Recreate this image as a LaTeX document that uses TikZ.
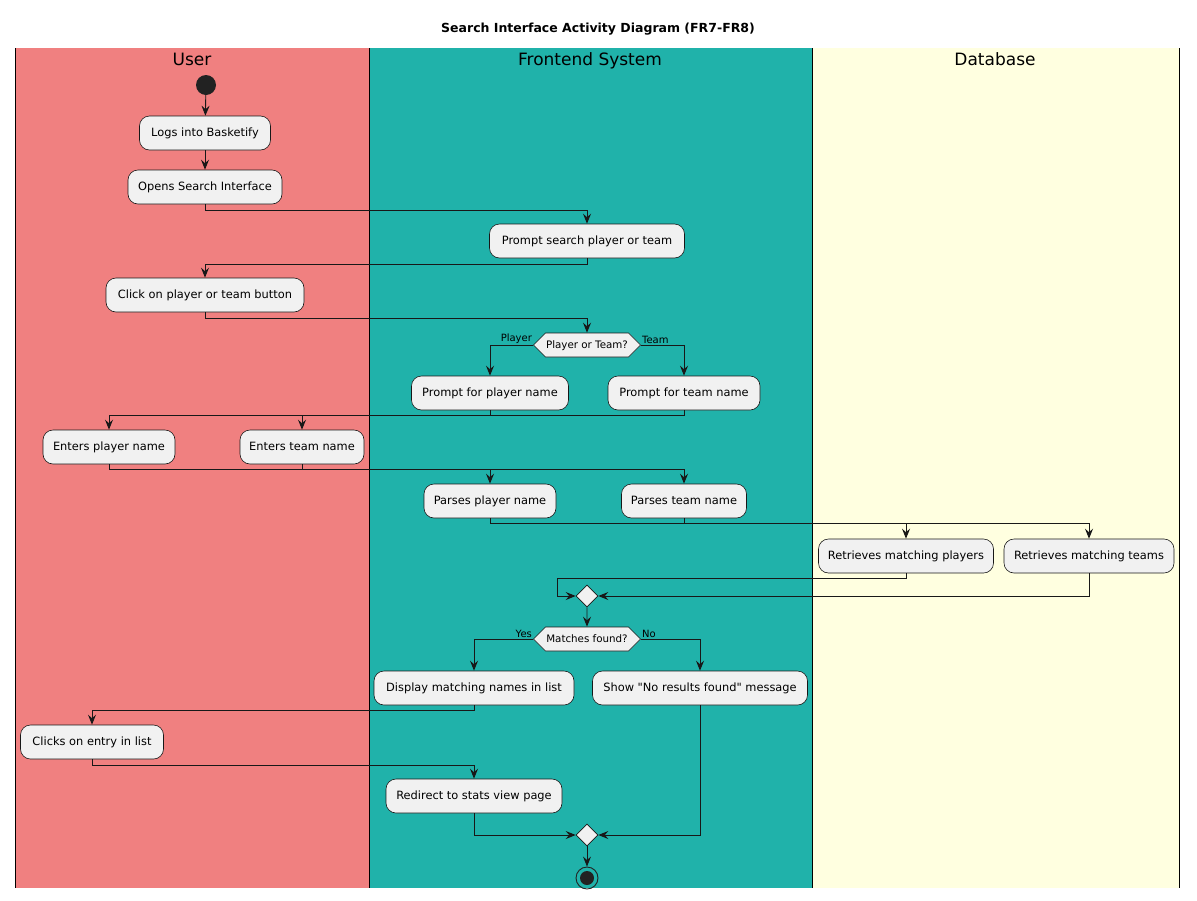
\documentclass[tikz,border=0pt]{standalone}
\usepackage{fontspec}
\setmainfont{DejaVu Sans}[Ligatures=TeXOff]
\usetikzlibrary{arrows.meta,shapes.geometric,shapes.symbols,calc}
\definecolor{userc}{HTML}{F08080}
\definecolor{frontc}{HTML}{20B2AA}
\definecolor{dbc}{HTML}{FFFFE0}
\definecolor{boxf}{HTML}{F1F1F1}
\definecolor{bd}{HTML}{181818}
\definecolor{ln}{HTML}{181818}
\definecolor{dot}{HTML}{222222}
\begin{document}
\begin{tikzpicture}[x=1pt,y=-1pt,
 act/.style={draw=bd, fill=boxf, rounded corners=10pt, line width=0.6pt, minimum height=34pt, inner xsep=6pt, text height=9pt, text depth=2.5pt, font=\fontsize{11.4}{13}\selectfont},
 dec/.style={shape=signal, signal to=west and east, signal pointer angle=90, draw=bd, fill=boxf, line width=0.6pt, minimum width=107pt, minimum height=24pt, inner sep=0pt, text height=8pt, text depth=2pt, font=\fontsize{10.3}{12}\selectfont},
 mrg/.style={diamond, draw=bd, fill=boxf, minimum width=22pt, minimum height=22pt, inner sep=0pt, line width=0.6pt},
 flow/.style={line width=0.9pt, draw=ln, -{Stealth[length=10pt,width=8pt,inset=3.5pt]}},
 seg/.style={line width=0.9pt, draw=ln},
 lbl/.style={font=\fontsize{10}{12}\selectfont, inner sep=1pt},
 lane/.style={font=\fontsize{17}{20}\selectfont, text height=12.5pt, text depth=3.5pt},
]
\useasboundingbox (0,0) rectangle (1197,900);
% lanes
\fill[userc] (15,48) rectangle (369,888);
\fill[frontc] (369,48) rectangle (812,888);
\fill[dbc] (812,48) rectangle (1179,888);
\foreach \xx in {15,369,812,1179} \draw[line width=1pt, black] (\xx,48) -- (\xx,888);
\node[font=\bfseries\fontsize{12.5}{15}\selectfont] (title) at (598,29) {Search Interface Activity Diagram (FR7-FR8)};
\node[lane] (lu) at (192,61) {User};
\node[lane] (lf) at (590,61) {Frontend System};
\node[lane] (ld) at (995,61) {Database};

% nodes
\node[circle, fill=dot, minimum size=20pt, inner sep=0pt] (start) at (206,85) {};
\node[act, minimum width=131pt] (a1) at (205,133) {Logs into Basketify};
\node[act, minimum width=154pt] (a2) at (205,187) {Opens Search Interface};
\node[act, minimum width=195pt] (a3) at (587,241) {Prompt search player or team};
\node[act, minimum width=198pt] (a4) at (205,295) {Click on player or team button};
\node[dec] (d1) at (587,345) {Player or Team?};
\node[act, minimum width=157pt] (a5) at (490,393) {Prompt for player name};
\node[act, minimum width=152pt] (a6) at (684,393) {Prompt for team name};
\node[act, minimum width=132pt] (a7) at (109,447) {Enters player name};
\node[act, minimum width=124pt] (a8) at (302,447) {Enters team name};
\node[act, minimum width=132pt] (a9) at (490,501) {Parses player name};
\node[act, minimum width=125pt] (a10) at (684,501) {Parses team name};
\node[act, minimum width=175pt] (a11) at (906,556) {Retrieves matching players};
\node[act, minimum width=170pt] (a12) at (1089,556) {Retrieves matching teams};
\node[mrg] (m1) at (587,596) {};
\node[dec] (d2) at (587,639) {Matches found?};
\node[act, minimum width=200pt] (a13) at (474,688) {Display matching names in list};
\node[act, minimum width=215pt] (a14) at (700,688) {Show "No results found" message};
\node[act, minimum width=143pt] (a15) at (92,742) {Clicks on entry in list};
\node[act, minimum width=176pt] (a16) at (474,796) {Redirect to stats view page};
\node[mrg] (m2) at (587,835) {};
\node[circle, draw=dot, line width=0.9pt, minimum size=22pt, inner sep=0pt] (end) at (587,878) {};
\fill[dot] (end.center) circle (7pt);

% bus coordinates
\coordinate (b1) at (0,415);
\coordinate (b2) at (0,469);
\coordinate (b3) at (0,523);
\coordinate (k1) at (557,578);

% connectors
\draw[flow] (start) -- (a1);
\draw[flow] (a1) -- (a2);
\draw[flow] (a2.south) -- ++(0,6) -| (a3.north);
\draw[flow] (a3.south) -- ++(0,6) -| (a4.north);
\draw[flow] (a4.south) -- ++(0,6) -| (d1.north);
\draw[flow] (d1.west) -| (a5.north);
\draw[flow] (d1.east) -| (a6.north);
\node[lbl, anchor=south east] (lp) at (d1.west) {Player};
\node[lbl, anchor=south west] (lt) at (d1.east) {Team};

\draw[seg] (a5.south) -- (a5.south |- b1);
\draw[flow] (a6.south) -- (a6.south |- b1) -| (a7.north);
\draw[flow] (a8.north |- b1) -- (a8.north);

\draw[seg] (a8.south) -- (a8.south |- b2);
\draw[flow] (a7.south) -- (a7.south |- b2) -| (a10.north);
\draw[flow] (a9.north |- b2) -- (a9.north);

\draw[seg] (a10.south) -- (a10.south |- b3);
\draw[flow] (a9.south) -- (a9.south |- b3) -| (a12.north);
\draw[flow] (a11.north |- b3) -- (a11.north);

\draw[flow] (a11.south) |- (k1) |- (m1.west);
\draw[flow] (a12.south) |- (m1.east);
\draw[flow] (m1) -- (d2);
\draw[flow] (d2.west) -| (a13.north);
\draw[flow] (d2.east) -| (a14.north);
\node[lbl, anchor=south east] (ly) at (d2.west) {Yes};
\node[lbl, anchor=south west] (ln) at (d2.east) {No};
\draw[flow] (a13.south) -- ++(0,5) -| (a15.north);
\draw[flow] (a15.south) -- ++(0,6) -| (a16.north);
\draw[flow] (a16.south) |- (m2.west);
\draw[flow] (a14.south) |- (m2.east);
\draw[flow] (m2) -- (end);
\end{tikzpicture}
\end{document}
